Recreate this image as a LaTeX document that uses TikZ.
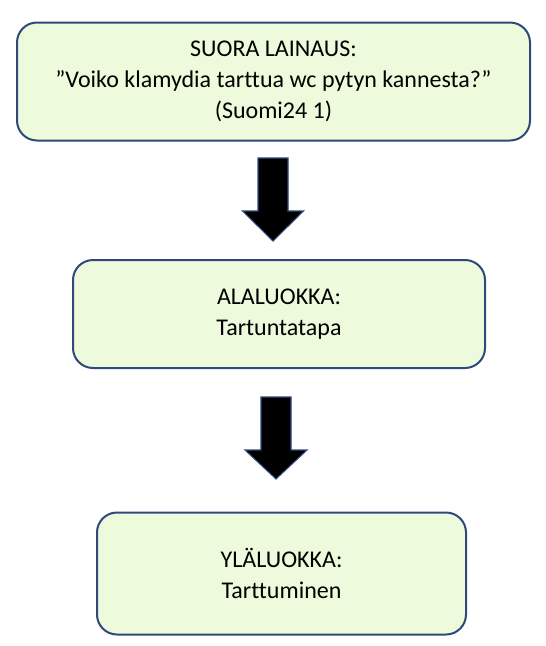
\documentclass[tikz,border=0pt]{standalone}
\usepackage{fontspec}
\setmainfont[Ligatures=NoCommon]{Carlito}
\definecolor{boxfill}{HTML}{EEFADC}
\definecolor{boxline}{HTML}{2F4A7A}
\begin{document}
\begin{tikzpicture}[x=0.75pt,y=-0.75pt,
  box/.style={draw=boxline,fill=boxfill,line width=1.5pt,rounded corners=15pt,
    inner sep=0pt,align=center,font=\fontsize{18}{23.5}\selectfont},
  blockarrow/.style={fill=black,draw=boxline,line width=0.8pt,line join=miter}]
\useasboundingbox (0,0) rectangle (546,646);
\node[box,minimum width=513*0.75pt,minimum height=118*0.75pt] (b1) at (273.5,81.5)
  {SUORA LAINAUS:\\”Voiko klamydia tarttua wc pytyn kannesta?”\\(Suomi24 1)};
\node[box,minimum width=412*0.75pt,minimum height=108*0.75pt] (b2) at (279,314)
  {ALALUOKKA:\\Tartuntatapa};
\node[box,minimum width=369*0.75pt,minimum height=122*0.75pt] (b3) at (281.5,573.5)
  {YLÄLUOKKA:\\Tarttuminen};
% block arrow 1
\coordinate (a1) at (273,158);
\draw[blockarrow] (a1) ++(-15,0) -- ++(30,0) -- ++(0,53) -- ++(15.5,0) -- (273,241)
  -- (242.5,211) -- (258,211) -- cycle;
% block arrow 2
\coordinate (a2) at (276,397);
\draw[blockarrow] (a2) ++(-15,0) -- ++(30,0) -- ++(0,53) -- ++(16,0) -- (276,479)
  -- (245,450) -- (261,450) -- cycle;
\end{tikzpicture}
\end{document}
